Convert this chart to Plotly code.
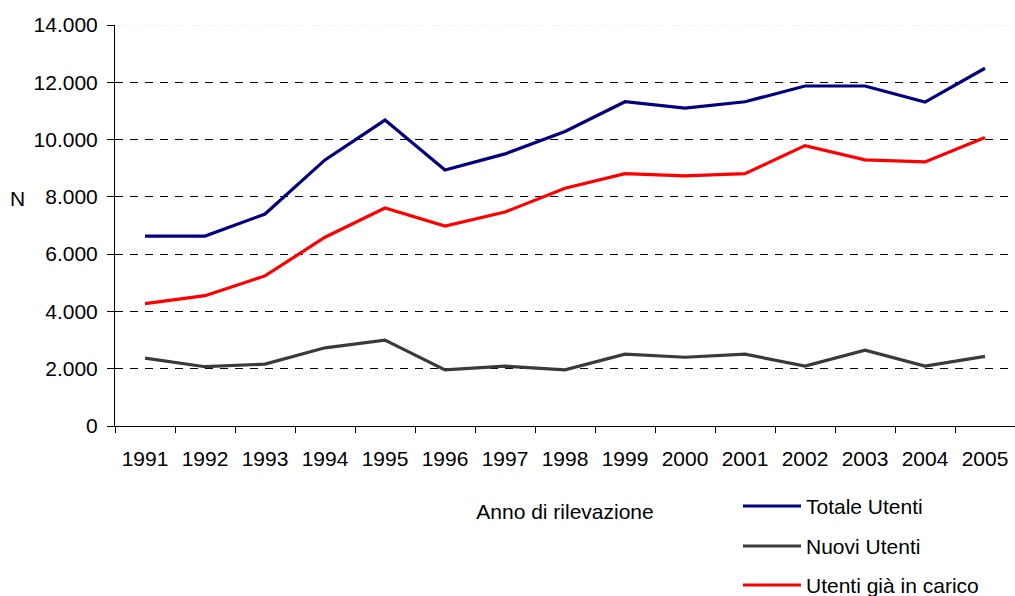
import plotly.graph_objects as go

years = ["1991", "1992", "1993", "1994", "1995", "1996", "1997", "1998",
         "1999", "2000", "2001", "2002", "2003", "2004", "2005"]
totale_utenti = [6630, 6630, 7400, 9290, 10680, 8940, 9500, 10280,
                 11320, 11100, 11320, 11870, 11870, 11310, 12490]
nuovi_utenti = [2370, 2070, 2160, 2730, 3000, 1960, 2090, 1960,
                2510, 2400, 2510, 2090, 2650, 2090, 2430]
utenti_gia_in_carico = [4270, 4550, 5240, 6590, 7610, 6980, 7470, 8300,
                        8810, 8730, 8810, 9790, 9290, 9220, 10070]
y_ticks = [0, 2000, 4000, 6000, 8000, 10000, 12000, 14000]
y_max = 14000

FONT = "Liberation Sans, Arial, Helvetica, sans-serif"
FS = 21

# plot area in pixels
W, H = 1015, 596
L, R, T, B = 115, 0, 25, 170
PW, PH = W - L - R, H - T - B


def px_x(p):
    return (p - L) / PW


def px_y(p):
    return (H - B - p) / PH


fig = go.Figure()
series = [
    ("Totale Utenti", totale_utenti, "#000080"),
    ("Nuovi Utenti", nuovi_utenti, "#3a3a3a"),
    ("Utenti già in carico", utenti_gia_in_carico, "#ff0000"),
]
for name, vals, col in series:
    fig.add_trace(go.Scatter(
        x=years, y=vals, name=name, mode="lines",
        line=dict(color=col, width=3.2),
    ))

# custom legend (below the plot, right side)
shapes = [
    dict(type="line", xref="paper", yref="y", x0=0.002, x1=1,
         y0=y_max, y1=y_max, line=dict(color="white", width=3),
         layer="above"),
    dict(type="line", xref="paper", yref="y", x0=0.002, x1=1,
         y0=y_max, y1=y_max,
         line=dict(color="#e6e6e6", width=1, dash="8px,7px"),
         layer="above"),
]
annotations = [dict(
    text="N", x=px_x(17), y=px_y(199), xref="paper", yref="paper",
    showarrow=False, xanchor="center", yanchor="middle",
    font=dict(family=FONT, size=FS, color="black"),
)]
row_y = [506, 546, 585]
for (name, vals, col), ry in zip(series, row_y):
    shapes.append(dict(
        type="line", xref="paper", yref="paper",
        x0=px_x(743), x1=px_x(801), y0=px_y(ry), y1=px_y(ry),
        line=dict(color=col, width=3.2),
    ))
    annotations.append(dict(
        text=name, x=px_x(804), y=px_y(ry), xref="paper", yref="paper",
        showarrow=False, xanchor="left", yanchor="middle",
        font=dict(family=FONT, size=FS, color="black"),
    ))

fig.update_layout(
    width=W, height=H,
    margin=dict(l=L, r=R, t=T, b=B),
    paper_bgcolor="white", plot_bgcolor="white",
    separators=",.",
    font=dict(family=FONT, size=FS, color="black"),
    showlegend=False,
    annotations=annotations,
    shapes=shapes,
)

fig.update_xaxes(
    type="category", range=[-0.5, len(years) - 0.5],
    tickson="boundaries", ticks="outside", ticklen=6, tickangle=0,
    tickcolor="black", showline=True, linecolor="black", linewidth=1,
    showgrid=False, tickfont=dict(family=FONT, size=FS),
    ticklabelstandoff=14,
    title=dict(text="Anno di rilevazione", standoff=35,
               font=dict(family=FONT, size=FS)),
    automargin=False,
)
fig.update_yaxes(
    range=[0, y_max], tickvals=y_ticks, tickformat=",d",
    ticks="outside", ticklen=7, tickcolor="black",
    showline=True, linecolor="black", linewidth=1,
    showgrid=True, gridcolor="black", gridwidth=1, griddash="8px,7px",
    zeroline=False, tickfont=dict(family=FONT, size=FS),
    ticklabelstandoff=5, automargin=False,
)

fig.write_html(
    "out.html",
    config={"displayModeBar": False},
    post_script="document.body.style.margin='0';document.body.style.padding='0';",
)
